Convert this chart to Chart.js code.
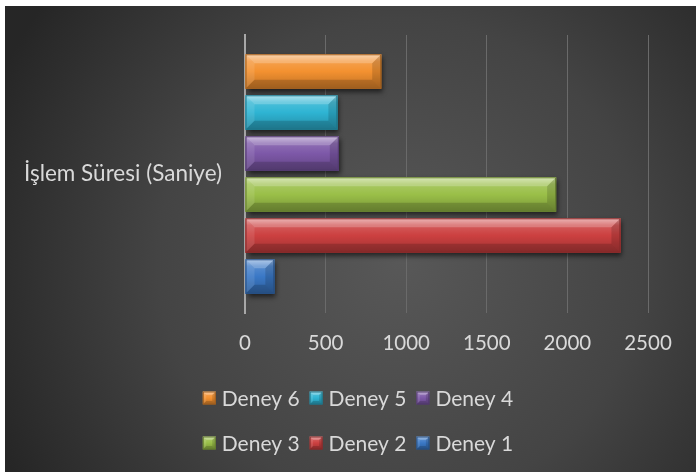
<!DOCTYPE html>
<html>
<head>
<meta charset="utf-8">
<script src="https://cdn.jsdelivr.net/npm/chart.js@4.4.1/dist/chart.umd.min.js"></script>
<style>
  html, body { margin: 0; padding: 0; background: #ffffff; }
  #wrap { position: absolute; left: 5px; top: 6px; width: 691px; height: 466px; }
  canvas { display: block; }
</style>
</head>
<body>
<div id="wrap"><canvas id="chart" width="691" height="466"></canvas></div>
<script>
// Processing time per experiment
const categories = ['İşlem Süresi (Saniye)'];
const seriesLabels = ['Deney 6', 'Deney 5', 'Deney 4', 'Deney 3', 'Deney 2', 'Deney 1'];
const seriesValues = [845, 573, 582, 1930, 2329, 182];
const xTicks = [0, 500, 1000, 1500, 2000, 2500];

// Series colours (same order as seriesLabels)
const seriesColors = ['#F39130', '#2EB4D3', '#7D58A8', '#9ABF48', '#CC4040', '#3A78C6'];

const TEXT = '#d9d9d9';
const FONT_FAMILY = 'Lato, "Open Sans", sans-serif';
const TICK_SIZE = 20.5;
const CATEGORY_SIZE = 22.5;
const LEGEND_SIZE = 21;

function hexToRgb(h) {
  const n = parseInt(h.slice(1), 16);
  return [(n >> 16) & 255, (n >> 8) & 255, n & 255];
}
function mix(hex, target, t) {
  const a = hexToRgb(hex), b = hexToRgb(target);
  const c = a.map((v, i) => Math.round(v + (b[i] - v) * t));
  return `rgb(${c[0]},${c[1]},${c[2]})`;
}

// Draws a bevelled, shaded rectangle (used for bars and legend keys)
function bevelRect(ctx, left, top, right, bottom, base, b, shadow) {
  const w = right - left, h = bottom - top;
  if (w <= 0 || h <= 0) return;
  if (shadow) {
    ctx.save();
    ctx.shadowColor = 'rgba(0,0,0,0.6)';
    ctx.shadowBlur = 5;
    ctx.shadowOffsetX = 2;
    ctx.shadowOffsetY = 3;
    ctx.fillStyle = base;
    ctx.fillRect(left, top, w, h);
    ctx.restore();
  }
  const g = ctx.createLinearGradient(0, top, 0, bottom);
  g.addColorStop(0, mix(base, '#ffffff', 0.5));
  g.addColorStop(0.2, mix(base, '#ffffff', 0.14));
  g.addColorStop(0.5, base);
  g.addColorStop(1, mix(base, '#000000', 0.22));
  ctx.fillStyle = g;
  ctx.fillRect(left, top, w, h);

  const bb = Math.min(b, w / 2, h / 2);
  const poly = (pts, fill) => {
    ctx.beginPath();
    ctx.moveTo(pts[0][0], pts[0][1]);
    for (let i = 1; i < pts.length; i++) ctx.lineTo(pts[i][0], pts[i][1]);
    ctx.closePath();
    ctx.fillStyle = fill;
    ctx.fill();
  };
  // top
  poly([[left, top], [right, top], [right - bb, top + bb], [left + bb, top + bb]], 'rgba(255,255,255,0.22)');
  // left
  poly([[left, top], [left + bb, top + bb], [left + bb, bottom - bb], [left, bottom]], 'rgba(255,255,255,0.10)');
  // right
  poly([[right, top], [right, bottom], [right - bb, bottom - bb], [right - bb, top + bb]], 'rgba(0,0,0,0.14)');
  // bottom
  poly([[left, bottom], [left + bb, bottom - bb], [right - bb, bottom - bb], [right, bottom]], 'rgba(0,0,0,0.16)');

  ctx.strokeStyle = mix(base, '#000000', 0.35);
  ctx.lineWidth = 1;
  ctx.strokeRect(left + 0.5, top + 0.5, w - 1, h - 1);
}

const backgroundPlugin = {
  id: 'darkBackground',
  beforeDraw(chart) {
    const { ctx, width, height } = chart;
    const g = ctx.createRadialGradient(395, 255, 0, 395, 255, 440);
    g.addColorStop(0, '#585858');
    g.addColorStop(0.55, '#444444');
    g.addColorStop(1, '#262626');
    ctx.save();
    ctx.fillStyle = g;
    ctx.fillRect(0, 0, width, height);
    ctx.restore();
  }
};

const bevelBarsPlugin = {
  id: 'bevelBars',
  afterDatasetsDraw(chart) {
    const ctx = chart.ctx;
    ctx.save();
    chart.data.datasets.forEach((ds, di) => {
      const meta = chart.getDatasetMeta(di);
      meta.data.forEach(el => {
        const p = el.getProps(['x', 'y', 'base', 'height'], true);
        const left = Math.min(p.base, p.x), right = Math.max(p.base, p.x);
        const top = p.y - p.height / 2, bottom = p.y + p.height / 2;
        bevelRect(ctx, left, top, right, bottom, ds.backgroundColor, 9, true);
      });
    });
    ctx.restore();
  }
};

const legendPlugin = {
  id: 'bevelLegend',
  afterDraw(chart) {
    const ctx = chart.ctx;
    ctx.save();
    ctx.font = `${LEGEND_SIZE}px ${FONT_FAMILY}`;
    ctx.textBaseline = 'middle';
    ctx.textAlign = 'left';
    const rows = [[0, 1, 2], [3, 4, 5]];
    const rowCenters = [392, 437];
    const box = 13, gapText = 6, gapItem = 10;
    const centerX = 353;
    rows.forEach((row, ri) => {
      const widths = row.map(i => ctx.measureText(chart.data.datasets[i].label).width);
      const total = widths.reduce((s, w) => s + box + gapText + w, 0) + gapItem * (row.length - 1);
      let x = centerX - total / 2;
      const cy = rowCenters[ri];
      row.forEach((i, k) => {
        const ds = chart.data.datasets[i];
        bevelRect(ctx, x, cy - box / 2, x + box, cy + box / 2, ds.backgroundColor, 3.5, false);
        ctx.fillStyle = TEXT;
        ctx.fillText(ds.label, x + box + gapText, cy + 1);
        x += box + gapText + widths[k] + gapItem;
      });
    });
    ctx.restore();
  }
};

const datasets = seriesLabels.map((label, i) => ({
  label,
  data: [seriesValues[i]],
  backgroundColor: seriesColors[i],
  borderWidth: 0,
  categoryPercentage: 0.885,
  barPercentage: 0.84
}));

new Chart(document.getElementById('chart'), {
  type: 'bar',
  data: { labels: categories, datasets },
  options: {
    indexAxis: 'y',
    responsive: false,
    devicePixelRatio: 1,
    animation: false,
    events: [],
    layout: { padding: { top: 29, right: 48, left: 0, bottom: 0 } },
    plugins: {
      legend: { display: false },
      tooltip: { enabled: false }
    },
    scales: {
      x: {
        min: 0,
        max: 2500,
        afterBuildTicks: s => { s.ticks = xTicks.map(v => ({ value: v })); },
        afterFit: s => { s.height = 159; },
        grid: { color: '#6a6a6a', lineWidth: 1, drawTicks: false },
        border: { display: false },
        ticks: {
          color: TEXT,
          font: { family: FONT_FAMILY, size: TICK_SIZE },
          padding: 18,
          maxRotation: 0,
          callback: v => String(v)
        }
      },
      y: {
        afterFit: s => { s.width = 240; s.paddingTop = 0; s.paddingBottom = 0; },
        grid: { display: false, drawTicks: false },
        border: { display: true, color: '#a8a8a8', width: 2 },
        ticks: {
          color: TEXT,
          font: { family: FONT_FAMILY, size: CATEGORY_SIZE },
          padding: 23
        }
      }
    }
  },
  plugins: [backgroundPlugin, bevelBarsPlugin, legendPlugin]
});
</script>
</body>
</html>
